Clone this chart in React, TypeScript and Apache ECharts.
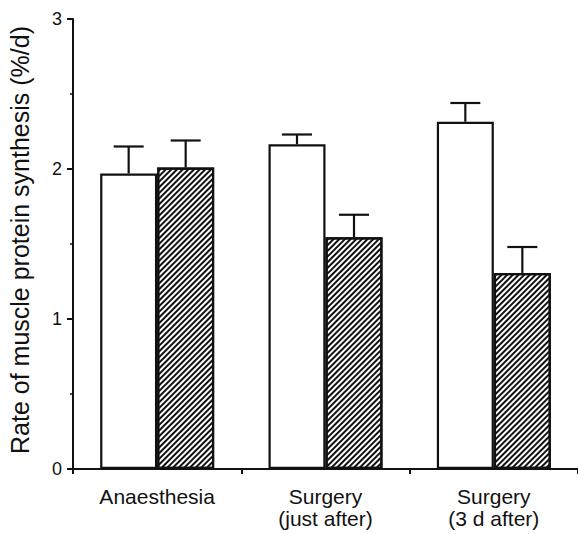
import React, { useEffect, useRef } from "react";
import * as echarts from "echarts";

const categories = ["Anaesthesia", "Surgery\n(just after)", "Surgery\n(3 d after)"];
const whiteValues = [1.97, 2.165, 2.315];
const whiteErrTop = [2.15, 2.23, 2.44];
const hatchValues = [2.01, 1.545, 1.307];
const hatchErrTop = [2.19, 1.695, 1.48];
const yTicks = [0, 1, 2, 3];

const BAR_W = 57;
const FONT = "Liberation Sans, Arial, sans-serif";

function errSeries(tops: number[], offset: number) {
  return {
    type: "custom",
    z: 5,
    data: tops.map((t, i) => [i, t]),
    renderItem: (params: any, api: any) => {
      const i = api.value(0);
      const top = api.value(1);
      const base = offset < 0 ? whiteValues[i] : hatchValues[i];
      const p1 = api.coord([i, base]);
      const p2 = api.coord([i, top]);
      const x = p1[0] + offset;
      const style = { stroke: "#111", lineWidth: 2.2, fill: "none" };
      return {
        type: "group",
        children: [
          { type: "line", shape: { x1: x, y1: p1[1], x2: x, y2: p2[1] }, style },
          { type: "line", shape: { x1: x - 15, y1: p2[1], x2: x + 15, y2: p2[1] }, style },
        ],
      };
    },
  };
}

export default function App() {
  const ref = useRef<HTMLDivElement>(null);
  useEffect(() => {
    document.body.style.margin = "0";
    const chart = echarts.init(ref.current!, null, { renderer: "svg" });
    chart.setOption({
      animation: false,
      backgroundColor: "#fff",
      textStyle: { fontFamily: FONT },
      grid: { left: 73, top: 19, width: 510, height: 450 },
      xAxis: {
        type: "category",
        data: categories,
        boundaryGap: true,
        axisLine: { lineStyle: { color: "#111", width: 2 } },
        axisTick: { show: true, length: 5, lineStyle: { color: "#111", width: 2 } },
        axisLabel: {
          color: "#111",
          fontSize: 21,
          lineHeight: 22,
          margin: 16,
          fontFamily: FONT,
        },
      },
      yAxis: {
        type: "value",
        min: yTicks[0],
        max: yTicks[yTicks.length - 1],
        interval: 1,
        splitLine: { show: false },
        axisLine: { show: true, lineStyle: { color: "#111", width: 2 } },
        axisTick: { show: true, length: 6, lineStyle: { color: "#111", width: 2 } },
        minorTick: { show: true, splitNumber: 2, length: 3, lineStyle: { color: "#111", width: 1.5 } },
        axisLabel: {
          color: "#111",
          fontSize: 18,
          margin: 11,
          fontFamily: FONT,
        },
      },
      graphic: [
        {
          type: "text",
          x: 7,
          y: 240,
          rotation: Math.PI / 2,
          style: {
            text: "Rate of muscle protein synthesis (%/d)",
            fontSize: 25,
            fontFamily: FONT,
            fill: "#111",
            align: "center",
            verticalAlign: "top",
          },
        },
      ],
      series: [
        {
          type: "bar",
          data: whiteValues,
          barWidth: BAR_W,
          barGap: "0%",
          itemStyle: { color: "#fff", borderColor: "#111", borderWidth: 2.2 },
        },
        {
          type: "bar",
          data: hatchValues,
          barWidth: BAR_W,
          barGap: "0%",
          itemStyle: {
            color: "#fff",
            borderColor: "#111",
            borderWidth: 2.2,
            decal: {
              symbol: "rect",
              color: "#111",
              backgroundColor: "#fff",
              dashArrayX: [1, 0],
              dashArrayY: [1.5, 1.8],
              rotation: -Math.PI / 4,
            },
          },
        },
        errSeries(whiteErrTop, -BAR_W / 2),
        errSeries(hatchErrTop, BAR_W / 2),
      ],
    });
    return () => chart.dispose();
  }, []);
  return <div ref={ref} style={{ width: 578, height: 534 }} />;
}
